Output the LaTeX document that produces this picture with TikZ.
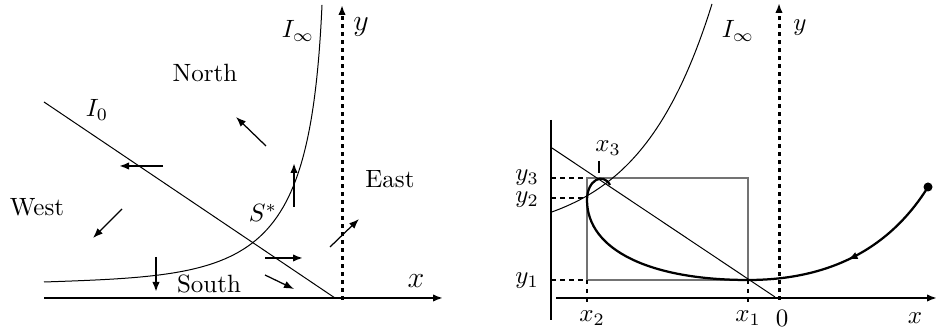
\documentclass[tikz,border=0pt]{standalone}
\usetikzlibrary{arrows.meta,decorations.markings}

\begin{document}
\begin{tikzpicture}[x=0.4pt, y=-0.4pt,
    tip/.style={-{Latex[length=4pt,width=3pt]}},
    axis/.style={tip, line width=0.8pt},
    yaxis/.style={tip, line width=1.2pt, dash pattern=on 1.6pt off 1.6pt},
    iso/.style={line width=0.4pt},
    flow/.style={tip, line width=0.5pt},
    nullarr/.style={tip, line width=1.1pt},
    guide/.style={line width=0.8pt, dash pattern=on 1.8pt off 1.8pt},
    box/.style={draw=black!55, line width=0.7pt},
    traj/.style={line width=0.9pt},
    lbl/.style={inner sep=1pt},
    biglbl/.style={lbl, font=\large}
  ]
  \useasboundingbox (0,0) rectangle (938,330);
  % ------------- left: regions -------------
  \draw[axis] (44,298) -- (443,298);
  \draw[yaxis] (342,300) -- (342,5);
  \node[biglbl] (lx) at (416,281) {$x$};
  \node[biglbl] (ly) at (361,27) {$y$};
  \draw[iso] (44,102) -- (335,298);
  \draw[iso] (44,282) .. controls (250,275) and (310,270) .. (322,5);
  \node[lbl] (i0) at (97,110) {$I_0$};
  \node[lbl] (iinf) at (298,31) {$I_\infty$};
  \node[lbl] (sstar) at (263,213) {$S^*$};
  \node[lbl] (north) at (205,73) {North};
  \node[lbl] (west) at (37,207) {West};
  \node[lbl] (south) at (209,284) {South};
  \node[lbl] (east) at (390,179) {East};
  % flow directions
  \draw[flow] (266,146) -- (236,117);
  \draw[flow] (122,209) -- (93,238);
  \draw[flow] (265,275) -- (294,289);
  \draw[flow] (330,247) -- (359,219);
  % crossings of the null-clines
  \draw[nullarr] (163,166) -- (119,166);
  \draw[nullarr] (294,207) -- (294,163);
  \draw[nullarr] (156,257) -- (156,292);
  \draw[nullarr] (265,258) -- (303,258);
  % ------------- right: one orbit -------------
  \draw[line width=0.9pt] (551,120) -- (551,320);
  \draw[axis] (556,298) -- (937,298);
  \draw[yaxis] (779,300) -- (779,3);
  \node[lbl] (rx) at (915,318) {$x$};
  \node[lbl] (ry) at (800,28) {$y$};
  \node[lbl] (zero) at (782,318) {$0$};
  \draw[box] (587,178) rectangle (748,280);
  \draw[iso] (552,148) -- (775,297);
  \draw[iso] plot[domain=552:712, samples=50]
    (\x, {238-586*exp(0.0137*(\x-779))});
  \node[lbl] (rinf) at (738,31) {$I_\infty$};
  \draw[guide] (551,178) -- (587,178);
  \draw[guide] (551,198) -- (587,198);
  \draw[guide] (551,280) -- (587,280);
  \draw[guide] (587,280) -- (587,304);
  \draw[guide] (748,280) -- (748,304);
  \draw[line width=1.1pt] (599,161) -- (599,173);
  \node[lbl] (y3) at (527,178) {$y_3$};
  \node[lbl] (y2) at (527,200) {$y_2$};
  \node[lbl] (y1) at (527,281) {$y_1$};
  \node[lbl] (x2) at (592,318) {$x_2$};
  \node[lbl] (x1) at (748,318) {$x_1$};
  \node[lbl] (x3) at (608,148) {$x_3$};
  \coordinate (start) at (928,187);
  \draw[traj, decoration={markings,
      mark=at position 44pt with {\arrow{Latex[length=4pt,width=3pt]}}},
      postaction={decorate}]
    (start) .. controls (895,240) and (840,280) .. (748,280)
    .. controls (650,280) and (587,250) .. (587,200)
    .. controls (587,180) and (603,172) .. (610,185);
  \fill (start) circle (1.8pt);
\end{tikzpicture}
\end{document}
